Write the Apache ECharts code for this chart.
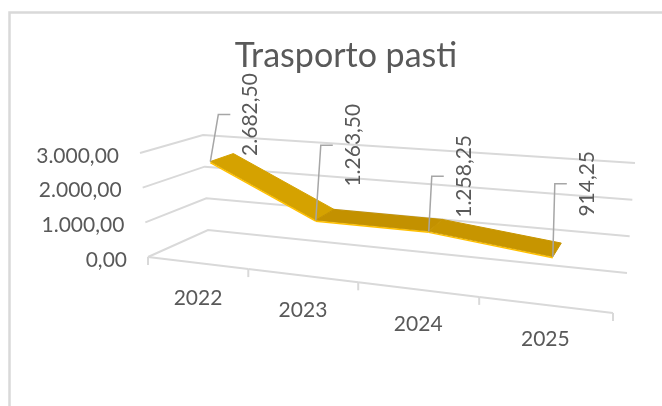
<!DOCTYPE html>
<html>
<head>
<meta charset="utf-8">
<script src="https://cdn.jsdelivr.net/npm/echarts@6/dist/echarts.min.js"></script>
<style>
  html, body { margin: 0; padding: 0; background: #fff; }
  #chart { width: 662px; height: 406px; }
</style>
</head>
<body>
<div id="chart"></div>
<script>
const years = ['2022', '2023', '2024', '2025'];
const amounts = [2682.5, 1263.5, 1258.25, 914.25];
const valueTicks = [0, 1000, 2000, 3000];
const valueMax = 3000;

// data label placement: leader top relative to the ribbon point (dx, dy)
const labelShift = [[8, -47], [5, -75], [3, -55], [2, -73]];

// the 3d box as it lands in the picture (floor and ceiling corners)
const floorBox = { fl: [148, 257], fr: [613, 313], bl: [208, 230], br: [627, 273] };
const roofBox = { fl: [140, 153], fr: [620, 190], bl: [203, 135], br: [635, 163] };
const ribbonFront = 0.33;
const ribbonBack = 0.73;

const TEXT = '#595959';
const GRID = '#D9D9D9';
const LEADER = '#A6A6A6';
const FONT = 'Lato, "Open Sans", sans-serif';
const LABEL_FONT = '21px ' + FONT;

function mix(a, b, k) {
  return [a[0] + (b[0] - a[0]) * k, a[1] + (b[1] - a[1]) * k];
}
function onPlane(box, t, d) {
  return mix(mix(box.fl, box.fr, t), mix(box.bl, box.br, t), d);
}
// u: 0..1 across categories, w: 0..1 up the value axis, d: 0 front .. 1 back
function proj(u, w, d) {
  const t = 0.825 * u / (1 - 0.175 * u);
  return mix(onPlane(floorBox, t, d), onPlane(roofBox, t, d), w);
}
// pixel from the hidden grid -> unit square
function toUnit(params, pt) {
  const cs = params.coordSys;
  return [(pt[0] - cs.x) / cs.width, (cs.y + cs.height - pt[1]) / cs.height];
}
function fmt(v) {
  const parts = v.toFixed(2).split('.');
  return parts[0].replace(/\B(?=(\d{3})+(?!\d))/g, '.') + ',' + parts[1];
}

// back wall + left wall gridlines and value labels
function renderFrame(params, api) {
  const w = toUnit(params, api.coord([0, api.value(1)]))[1];
  const a = proj(0, w, 0);
  const b = proj(0, w, 1);
  const c = proj(1, w, 1);
  return {
    type: 'group',
    children: [
      { type: 'polyline', shape: { points: [a, b, c] }, style: { stroke: GRID, lineWidth: 2, fill: 'none' } },
      {
        type: 'text', x: a[0] - 21, y: a[1] + 3,
        style: { text: fmt(api.value(1)), fill: TEXT, font: LABEL_FONT, align: 'right', verticalAlign: 'middle' }
      }
    ]
  };
}

// front floor edge, ticks and category labels
function renderFloor(params, api) {
  const i = params.dataIndex;
  const mid = toUnit(params, api.coord([i, 0]))[0];
  const half = api.size([1, 0])[0] / params.coordSys.width / 2;
  const p0 = proj(mid - half, 0, 0);
  const p1 = proj(mid + half, 0, 0);
  const pc = proj(mid, 0, 0);
  const line = { stroke: GRID, lineWidth: 2, fill: 'none' };
  const kids = [
    { type: 'line', shape: { x1: p0[0], y1: p0[1], x2: p1[0], y2: p1[1] }, style: line },
    { type: 'line', shape: { x1: p0[0], y1: p0[1], x2: p0[0], y2: p0[1] + 8 }, style: line },
    {
      type: 'text', x: pc[0] + 1, y: pc[1] + 35,
      style: { text: years[i], fill: TEXT, font: LABEL_FONT, align: 'center', verticalAlign: 'middle' }
    }
  ];
  if (i === years.length - 1) {
    kids.push({ type: 'line', shape: { x1: p1[0], y1: p1[1], x2: p1[0], y2: p1[1] + 8 }, style: line });
  }
  return { type: 'group', children: kids };
}

// the ribbon, its data labels and leader lines
function renderRibbon(params, api) {
  const i = params.dataIndex;
  const v = api.value(1);
  const here = toUnit(params, api.coord([i, v]));
  const f0 = proj(here[0], here[1], ribbonFront);
  const b0 = proj(here[0], here[1], ribbonBack);
  const kids = [];
  if (i < amounts.length - 1) {
    const next = toUnit(params, api.coord([i + 1, amounts[i + 1]]));
    const f1 = proj(next[0], next[1], ribbonFront);
    const b1 = proj(next[0], next[1], ribbonBack);
    // steeper drop faces the light more
    const k = Math.max(0, Math.min(1, (v - amounts[i + 1]) / 1400));
    const col = 'rgb(' + Math.round(195 + 18 * k) + ',' + Math.round(145 + 17 * k) + ',0)';
    kids.push({ type: 'polygon', shape: { points: [f0, f1, b1, b0] }, style: { fill: col, stroke: col, lineWidth: 1 } });
    kids.push({
      type: 'polyline',
      shape: { points: [[f0[0], f0[1] + 1], [f1[0], f1[1] + 1]] },
      style: { stroke: '#FFC000', lineWidth: 1.5, fill: 'none' }
    });
  }
  const top = [f0[0] + labelShift[i][0], f0[1] + labelShift[i][1]];
  kids.push({
    type: 'polyline',
    shape: { points: [f0, top, [top[0] + 12, top[1]]] },
    style: { stroke: LEADER, lineWidth: 1.5, fill: 'none' }
  });
  kids.push({
    type: 'text', x: top[0] + 32, y: top[1], rotation: Math.PI / 2,
    style: { text: fmt(v), fill: TEXT, font: LABEL_FONT, align: 'center', verticalAlign: 'middle' }
  });
  return { type: 'group', children: kids };
}

const myChart = echarts.init(document.getElementById('chart'), null, { renderer: 'canvas' });
var option = {
  animation: false,
  title: {
    text: 'Trasporto pasti',
    left: 341,
    top: 34,
    textAlign: 'center',
    textStyle: { fontFamily: FONT, fontSize: 34, fontWeight: 'normal', color: TEXT }
  },
  graphic: [
    {
      type: 'rect', z: -10, silent: true,
      shape: { x: 9.5, y: 12.5, width: 720, height: 500 },
      style: { fill: 'none', stroke: GRID, lineWidth: 2.5 }
    }
  ],
  grid: { left: 0, top: 0, width: 400, height: 300 },
  xAxis: { type: 'category', data: years, show: false },
  yAxis: { type: 'value', min: 0, max: valueMax, interval: 1000, show: false },
  series: [
    { type: 'custom', name: 'frame', renderItem: renderFrame, data: valueTicks.map(v => [0, v]), z: 1, silent: true },
    { type: 'custom', name: 'floor', renderItem: renderFloor, data: years.map((y, i) => [i, 0]), z: 1, silent: true },
    { type: 'custom', name: 'Trasporto pasti', renderItem: renderRibbon, data: years.map((y, i) => [i, amounts[i]]), z: 3 }
  ]
};
option && myChart.setOption(option);
</script>
</body>
</html>
